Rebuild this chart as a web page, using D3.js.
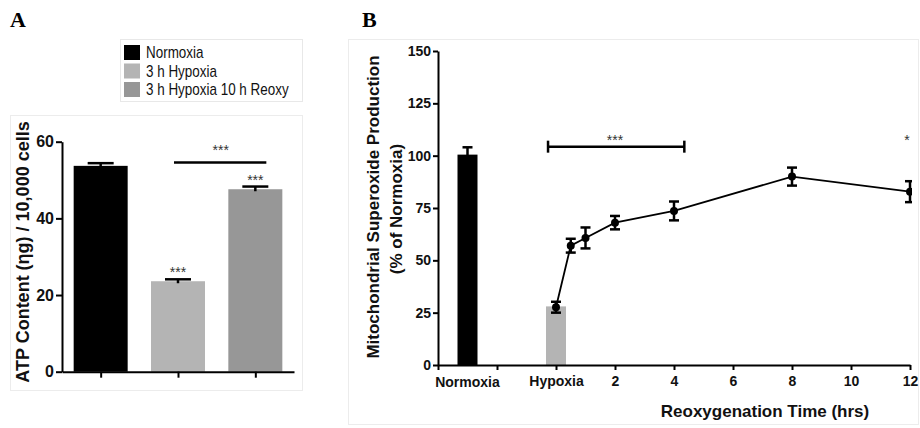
<!DOCTYPE html>
<html>
<head>
<meta charset="utf-8">
<script src="https://cdn.jsdelivr.net/npm/d3@7"></script>
<style>
  body { margin: 0; background: #fff; }
  svg { display: block; font-family: "Liberation Sans", Arial, sans-serif; }
</style>
</head>
<body>
<svg id="chart" width="920" height="428"></svg>
<script>
/* ---------- data: panel A ---------- */
const atpGroups = ['Normoxia', '3 h Hypoxia', '3 h Hypoxia 10 h Reoxy'];
const atpMean = [53.7, 23.6, 47.6];
const atpErr = [0.7, 0.5, 0.7];
const atpStars = ['', '***', '***'];
const atpTicks = [0, 20, 40, 60];

/* ---------- data: panel B ---------- */
const barLabels = ['Normoxia', 'Hypoxia'];
const barTime = [-3, 0];
const barMean = [100.5, 28];
const barErr = [3.5, 0];
const reoxTime = [0, 0.5, 1, 2, 4, 8, 12];
const superMean = [27.6, 57, 60.7, 68, 73.6, 90, 82.8];
const superErr = [2.6, 3.3, 5, 3.2, 4.5, 4.3, 5];
const timeTicks = [-4, -2, 0, 2, 4, 6, 8, 10, 12];
const superTicks = [0, 25, 50, 75, 100, 125, 150];
const bracketB = [-0.27, 4.35];
const bracketVal = 104.3;
const starsB = [{ t: 2, text: '***' }, { t: 11.9, text: '*' }];

const colors = ['#000000', '#b4b4b4', '#979797'];

const svg = d3.select('#chart');

/* ---------- panel A ---------- */
svg.append('text').attr('x', 10).attr('y', 27)
  .attr('font-family', '"Liberation Serif", "Times New Roman", serif')
  .attr('font-weight', 'bold').attr('font-size', 22).text('A');

// legend box
const leg = svg.append('g');
leg.append('rect').attr('x', 120.5).attr('y', 39.5).attr('width', 182).attr('height', 62)
  .attr('fill', '#fff').attr('stroke', '#e8e8e8');
atpGroups.forEach((g, i) => {
  leg.append('rect').attr('x', 124).attr('y', 45 + i * 18.5).attr('width', 16).attr('height', 15)
    .attr('fill', colors[i]);
  // squeeze the text a bit, the original uses a narrow face
  leg.append('text').attr('transform', `translate(146,${58 + i * 18.5}) scale(0.84,1)`)
    .attr('font-size', 16).attr('fill', '#111').text(g);
});

// frame
svg.append('rect').attr('x', 10.5).attr('y', 115.5).attr('width', 292).attr('height', 275)
  .attr('fill', 'none').attr('stroke', '#ececec');

const xA = d3.scalePoint().domain(atpGroups).range([62, 294]).padding(0.5);
const yA = d3.scaleLinear().domain([0, 60]).range([371.7, 141.7]);
const barWA = 54;

svg.append('g').selectAll('rect').data(atpGroups).enter().append('rect')
  .attr('x', d => xA(d) - barWA / 2)
  .attr('width', barWA)
  .attr('y', (d, i) => yA(atpMean[i]))
  .attr('height', (d, i) => yA(0) - yA(atpMean[i]))
  .attr('fill', (d, i) => colors[i]);

// error bars (upper only)
const errA = svg.append('g').attr('stroke', '#000').attr('stroke-width', 2.5);
atpGroups.forEach((g, i) => {
  const cx = xA(g);
  errA.append('line').attr('x1', cx).attr('x2', cx)
    .attr('y1', yA(atpMean[i]) + 2).attr('y2', yA(atpMean[i] + atpErr[i]));
  errA.append('line').attr('x1', cx - 13).attr('x2', cx + 13)
    .attr('y1', yA(atpMean[i] + atpErr[i])).attr('y2', yA(atpMean[i] + atpErr[i]));
});

// stars over bars
atpGroups.forEach((g, i) => {
  if (!atpStars[i]) return;
  svg.append('text').attr('x', xA(g)).attr('y', yA(atpMean[i] + atpErr[i]) - 2)
    .attr('text-anchor', 'middle').attr('font-size', 14).attr('fill', '#333').text(atpStars[i]);
});

// significance line hypoxia vs reoxy
svg.append('line')
  .attr('x1', xA(atpGroups[1]) - 4).attr('x2', xA(atpGroups[2]) + 11)
  .attr('y1', yA(54.6)).attr('y2', yA(54.6))
  .attr('stroke', '#000').attr('stroke-width', 2.5);
svg.append('text')
  .attr('x', (xA(atpGroups[1]) + xA(atpGroups[2])) / 2 + 4).attr('y', yA(54.6) - 7)
  .attr('text-anchor', 'middle').attr('font-size', 14).attr('fill', '#333').text('***');

// axes A
const axA = svg.append('g').attr('transform', 'translate(62,0)')
  .call(d3.axisLeft(yA).tickValues(atpTicks).tickSize(6).tickPadding(2).tickSizeOuter(0));
const axAx = svg.append('g').attr('transform', `translate(0,${yA(0)})`)
  .call(d3.axisBottom(xA).tickFormat('').tickSize(6).tickSizeOuter(0));
[axA, axAx].forEach(a => {
  a.select('.domain').attr('stroke-width', 2);
  a.selectAll('.tick line').attr('stroke-width', 2);
  a.selectAll('text').attr('font-size', 16).attr('font-weight', 'bold').attr('fill', '#111');
});

svg.append('text')
  .attr('transform', `translate(29,252) rotate(-90)`)
  .attr('text-anchor', 'middle').attr('font-size', 18).attr('font-weight', 'bold').attr('fill', '#111')
  .text('ATP Content (ηg) / 10,000 cells');

/* ---------- panel B ---------- */
svg.append('text').attr('x', 362).attr('y', 27)
  .attr('font-family', '"Liberation Serif", "Times New Roman", serif')
  .attr('font-weight', 'bold').attr('font-size', 22).text('B');

svg.append('rect').attr('x', 348.5).attr('y', 39.5).attr('width', 570).attr('height', 385)
  .attr('fill', 'none').attr('stroke', '#ececec');

const xB = d3.scaleLinear().domain([-4, 12]).range([438, 910]);
const yB = d3.scaleLinear().domain([0, 150]).range([365, 51]);
const barWB = 20;

svg.append('defs').append('clipPath').attr('id', 'clipB')
  .append('rect').attr('x', 438).attr('y', 30).attr('width', 474).attr('height', 340);

const plotB = svg.append('g').attr('clip-path', 'url(#clipB)');

plotB.selectAll('rect.bar').data(barLabels).enter().append('rect')
  .attr('class', 'bar')
  .attr('x', (d, i) => xB(barTime[i]) - barWB / 2)
  .attr('width', barWB)
  .attr('y', (d, i) => yB(barMean[i]))
  .attr('height', (d, i) => yB(0) - yB(barMean[i]))
  .attr('fill', (d, i) => colors[i]);

barLabels.forEach((d, i) => {
  if (!barErr[i]) return;
  const cx = xB(barTime[i]);
  const top = yB(barMean[i] + barErr[i]);
  plotB.append('line').attr('x1', cx).attr('x2', cx).attr('y1', yB(barMean[i]) + 2).attr('y2', top)
    .attr('stroke', '#000').attr('stroke-width', 2.5);
  plotB.append('line').attr('x1', cx - 5).attr('x2', cx + 5).attr('y1', top).attr('y2', top)
    .attr('stroke', '#000').attr('stroke-width', 2.5);
});

const lineB = d3.line().x(d => xB(d[0])).y(d => yB(d[1]));
plotB.append('path').datum(reoxTime.map((t, i) => [t, superMean[i]]))
  .attr('d', lineB).attr('fill', 'none').attr('stroke', '#000').attr('stroke-width', 1.8);

reoxTime.forEach((t, i) => {
  const cx = xB(t);
  const y1 = yB(superMean[i] + superErr[i]);
  const y2 = yB(superMean[i] - superErr[i]);
  const g = plotB.append('g').attr('stroke', '#000').attr('stroke-width', 2.5);
  g.append('line').attr('x1', cx).attr('x2', cx).attr('y1', y1).attr('y2', y2);
  g.append('line').attr('x1', cx - 5).attr('x2', cx + 5).attr('y1', y1).attr('y2', y1);
  g.append('line').attr('x1', cx - 5).attr('x2', cx + 5).attr('y1', y2).attr('y2', y2);
  plotB.append('circle').attr('cx', cx).attr('cy', yB(superMean[i])).attr('r', 4).attr('fill', '#000');
});

// significance bracket
const by = yB(bracketVal);
const br = svg.append('g').attr('stroke', '#000').attr('stroke-width', 2.5);
br.append('line').attr('x1', xB(bracketB[0])).attr('x2', xB(bracketB[1])).attr('y1', by).attr('y2', by);
br.append('line').attr('x1', xB(bracketB[0])).attr('x2', xB(bracketB[0])).attr('y1', by - 6).attr('y2', by + 6);
br.append('line').attr('x1', xB(bracketB[1])).attr('x2', xB(bracketB[1])).attr('y1', by - 6).attr('y2', by + 6);

starsB.forEach(s => {
  svg.append('text').attr('x', xB(s.t)).attr('y', by - 2)
    .attr('text-anchor', 'middle').attr('font-size', 14).attr('fill', '#333').text(s.text);
});

// axes B
const axBy = svg.append('g').attr('transform', 'translate(438,0)')
  .call(d3.axisLeft(yB).tickValues(superTicks).tickSize(5).tickPadding(2).tickSizeOuter(0));
const axBx = svg.append('g').attr('transform', `translate(0,${yB(0)})`)
  .call(d3.axisBottom(xB).tickValues(timeTicks).tickSize(5).tickPadding(6).tickSizeOuter(0)
    .tickFormat(d => (d < 0 ? '' : d === 0 ? 'Hypoxia' : d)));
svg.append('text').attr('x', xB(barTime[0])).attr('y', yB(0) + 22)
  .attr('text-anchor', 'middle').attr('font-size', 14).attr('font-weight', 'bold').attr('fill', '#111')
  .text(barLabels[0]);
[axBy, axBx].forEach(a => {
  a.select('.domain').attr('stroke-width', 2);
  a.selectAll('.tick line').attr('stroke-width', 2);
  a.selectAll('text').attr('font-size', 14).attr('font-weight', 'bold').attr('fill', '#111');
});

svg.append('text')
  .attr('transform', 'translate(379,207) rotate(-90)')
  .attr('text-anchor', 'middle').attr('font-size', 17).attr('font-weight', 'bold').attr('fill', '#111')
  .text('Mitochondrial Superoxide Production');
svg.append('text')
  .attr('transform', 'translate(402,209) rotate(-90)')
  .attr('text-anchor', 'middle').attr('font-size', 17).attr('font-weight', 'bold').attr('fill', '#111')
  .text('(% of Normoxia)');

svg.append('text').attr('x', 765).attr('y', 417)
  .attr('text-anchor', 'middle').attr('font-size', 17).attr('font-weight', 'bold').attr('fill', '#111')
  .text('Reoxygenation Time (hrs)');
</script>
</body>
</html>
